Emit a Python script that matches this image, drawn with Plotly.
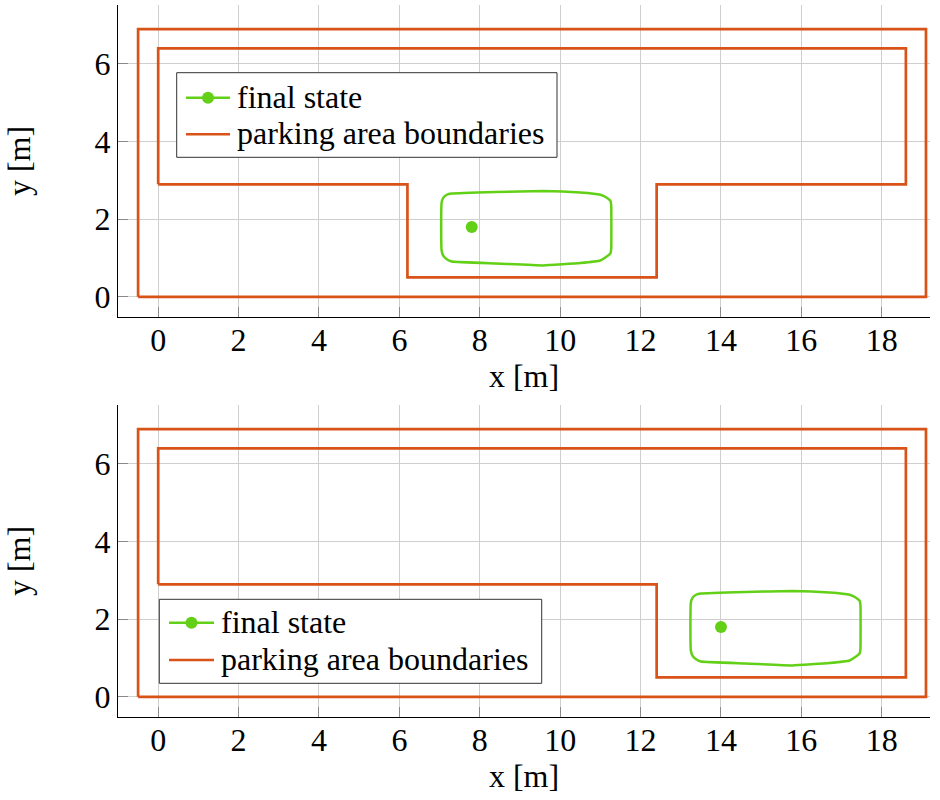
import plotly.graph_objects as go
from plotly.subplots import make_subplots

# Parking lot boundaries (outer wall and inner curb), top scenario: bay in the middle
outer_x = [-0.5, 19.1, 19.1, -0.5, -0.5]
outer_y = [0.0, 0.0, 6.9, 6.9, 0.0]
inner1_x = [0.0, 6.2, 6.2, 12.4, 12.4, 18.6, 18.6, 0.0, 0.0]
inner1_y = [2.9, 2.9, 0.5, 0.5, 2.9, 2.9, 6.4, 6.4, 2.9]
# Bottom scenario: bay on the right
inner2_x = [0.0, 12.4, 12.4, 18.6, 18.6, 0.0, 0.0]
inner2_y = [2.9, 2.9, 0.5, 0.5, 6.4, 6.4, 2.9]

# Vehicle footprint at the final state
car1_x = [9.58, 10.5, 11.0, 11.15, 11.25, 11.27, 11.27, 11.25, 11.15, 11.0, 10.5, 9.58,
          8.4, 7.3, 7.18, 7.09, 7.05, 7.04, 7.05, 7.09, 7.18, 7.3, 8.4, 9.58]
car1_y = [0.81, 0.87, 0.935, 1.03, 1.12, 1.25, 2.35, 2.47, 2.56, 2.63, 2.69, 2.73,
          2.70, 2.66, 2.63, 2.55, 2.42, 1.8, 1.2, 1.06, 0.97, 0.91, 0.86, 0.81]
car2_x = [15.78, 16.7, 17.2, 17.35, 17.45, 17.47, 17.47, 17.45, 17.35, 17.2, 16.7, 15.78,
          14.6, 13.5, 13.38, 13.29, 13.25, 13.24, 13.25, 13.29, 13.38, 13.5, 14.6, 15.78]
car2_y = [0.81, 0.87, 0.935, 1.03, 1.12, 1.25, 2.35, 2.47, 2.56, 2.63, 2.69, 2.73,
          2.70, 2.66, 2.63, 2.55, 2.42, 1.8, 1.2, 1.06, 0.97, 0.91, 0.86, 0.81]

final1 = (7.8, 1.8)
final2 = (14.0, 1.8)

x_ticks = [0, 2, 4, 6, 8, 10, 12, 14, 16, 18]
y_ticks = [0, 2, 4, 6]
legend_labels = ["final state", "parking area boundaries"]

ORANGE = "#D95319"
GREEN = "#62D016"
FONT = "Liberation Serif"
W, H = 940, 800

fig = make_subplots(rows=2, cols=1)

panels = [
    (1, inner1_x, inner1_y, car1_x, car1_y, final1),
    (2, inner2_x, inner2_y, car2_x, car2_y, final2),
]

for row, ix, iy, cx, cy, fs in panels:
    fig.add_trace(go.Scatter(x=cx, y=cy, mode="lines",
                             line=dict(color=GREEN, width=2.5, shape="spline", smoothing=0.3),
                             showlegend=False, hoverinfo="skip"), row=row, col=1)
    fig.add_trace(go.Scatter(x=[fs[0]], y=[fs[1]], mode="markers",
                             name=legend_labels[0],
                             marker=dict(color=GREEN, size=12),
                             showlegend=False), row=row, col=1)
    fig.add_trace(go.Scatter(x=outer_x + [None] + ix, y=outer_y + [None] + iy,
                             mode="lines", name=legend_labels[1],
                             line=dict(color=ORANGE, width=2.7),
                             showlegend=False), row=row, col=1)

x_dom = [118 / W, 930 / W]
y_doms = {1: [(H - 317) / H, (H - 5) / H], 2: [(H - 717) / H, (H - 405) / H]}

axis_common = dict(
    showline=True, linecolor="black", linewidth=1.3, mirror=False,
    showgrid=True, gridcolor="#cfcfcf", gridwidth=1,
    ticks="inside", ticklen=10, tickcolor="#8a8a8a", tickwidth=1,
    zeroline=False,
    tickfont=dict(family=FONT, size=32, color="black"),
)

for row in (1, 2):
    fig.update_xaxes(range=[-1.0, 19.2], domain=x_dom, tickvals=x_ticks,
                     ticklabelstandoff=-6,
                     title=dict(text="x [m]", font=dict(family=FONT, size=32, color="black"),
                                standoff=3),
                     row=row, col=1, **axis_common)
    fig.update_yaxes(range=[-0.52, 7.52], domain=y_doms[row], tickvals=y_ticks,
                     title=dict(text="y [m]", font=dict(family=FONT, size=32, color="black"),
                                standoff=54),
                     row=row, col=1, **axis_common)


# Boxed legend drawn in paper pixels: box (left, top, right, bottom),
# sample-line x extent, text left edge and the y of each row
def add_legend(box, line_x, text_x, rows_y):
    px = lambda v: v / W
    py = lambda v: 1 - v / H
    fig.add_shape(type="rect", xref="paper", yref="paper",
                  x0=px(box[0]), x1=px(box[2]), y0=py(box[3]), y1=py(box[1]),
                  line=dict(color="#333333", width=1), fillcolor="white", layer="above")
    colors = [GREEN, ORANGE]
    for i, (label, yy) in enumerate(zip(legend_labels, rows_y)):
        fig.add_shape(type="line", xref="paper", yref="paper",
                      x0=px(line_x[0]), x1=px(line_x[1]), y0=py(yy), y1=py(yy),
                      line=dict(color=colors[i], width=2.5), layer="above")
        if i == 0:
            cxm = (line_x[0] + line_x[1]) / 2
            fig.add_shape(type="circle", xref="paper", yref="paper",
                          x0=px(cxm - 6), x1=px(cxm + 6), y0=py(yy + 6), y1=py(yy - 6),
                          line=dict(color=GREEN, width=0), fillcolor=GREEN, layer="above")
        fig.add_annotation(xref="paper", yref="paper", x=px(text_x), y=py(yy - 1),
                           xanchor="left", yanchor="middle", showarrow=False,
                           text=label, font=dict(family=FONT, size=32, color="black"))


add_legend((176.7, 72.7, 557, 157.3), (186, 230), 235, (97.7, 134.3))
add_legend((159.3, 599.3, 541.7, 683.3), (169, 214), 218.5, (622.7, 660))

fig.update_layout(
    width=W, height=H,
    margin=dict(l=0, r=0, t=0, b=0),
    paper_bgcolor="white", plot_bgcolor="white",
    font=dict(family=FONT, size=32, color="black"),
    showlegend=False,
)

fig.write_html("out.html")
